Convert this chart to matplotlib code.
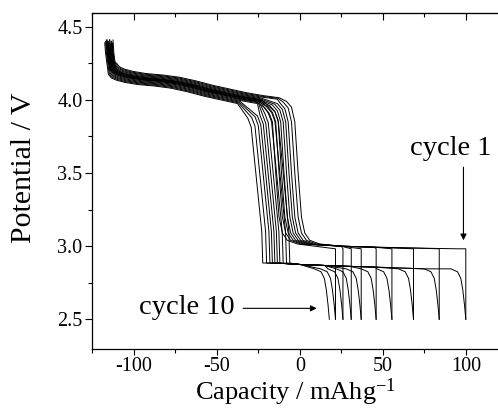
import matplotlib
matplotlib.use("Agg")
import matplotlib.pyplot as plt
from matplotlib.ticker import MultipleLocator, FormatStrFormatter

plt.rcParams["font.family"] = ["Liberation Serif", "DejaVu Serif"]
plt.rcParams["mathtext.fontset"] = "custom"
plt.rcParams["mathtext.rm"] = "Liberation Serif"
plt.rcParams["mathtext.it"] = "Liberation Serif:italic"
plt.rcParams["axes.unicode_minus"] = False

# end-of-discharge capacity of each cycle (cycle 1 .. cycle 10), mAh/g
CYCLE_END = [100, 84, 68.5, 55.5, 46, 37, 31, 26, 21.5, 17.8]

# first branch: smooth step onto the 3.0 V plateau (cycles 1-9)
START_HI = [-112.5, -113, -113.5, -114, -114.5, -115, -115.5, -116, -116.5]
TOP_HI = [4.41, 4.39, 4.40, 4.38, 4.41, 4.39, 4.40, 4.38, 4.41]
SHIFT_HI = [0.03, 0.025, 0.02, 0.015, 0.01, 0.005, 0.0, -0.005, -0.01]
STEP_HI = [-1, -3, -5, -6.5, -8, -9.5, -11, -12.5, -14.5]

# second branch: abrupt step onto the 2.88 V plateau (cycles 1-10)
START_LO = [-113, -113.5, -114, -114.5, -115, -115.5, -116, -116.5, -117, -117.5]
TOP_LO = [4.39, 4.40, 4.38, 4.41, 4.40, 4.39, 4.41, 4.38, 4.40, 4.39]
SHIFT_LO = [0.0, -0.005, -0.01, -0.015, -0.02, -0.025, -0.03, -0.035, -0.04, -0.045]
STEP_LO = [-6, -8, -10, -12, -13.5, -15, -16.5, -18, -20, -22.3]

# 4 V region after the initial spike, capacity counted from the curve start
HEAD_DCAP = [0.5, 1.2, 2.2, 4, 7, 12, 20, 30, 40, 50, 60, 70, 80, 90, 100]
HEAD_V = [4.32, 4.26, 4.22, 4.195, 4.18, 4.165, 4.15, 4.14, 4.125,
          4.10, 4.07, 4.045, 4.02, 4.0, 3.985]

# shape of the drop onto the 3.0 V plateau, relative to the step
DROP_HI_DCAP = [-7, -4, -2, 0, 2, 4, 7, 13]
DROP_HI_V = [3.96, 3.92, 3.85, 3.50, 3.20, 3.09, 3.04, 3.015]
PLAT_HI_CAP = [25, 45, 70, 95]
PLAT_HI_V = [3.0, 2.993, 2.987, 2.982]

# shape of the drop onto the 2.88 V plateau, relative to the step
DROP_LO_DCAP = [-9, -7, -0.6, 0]
DROP_LO_V = [3.92, 3.86, 3.10, 2.885]
PLAT_LO_CAP = [-10, 0, 15, 30, 45, 60, 75, 90]
PLAT_LO_V = [2.882, 2.875, 2.868, 2.862, 2.857, 2.851, 2.845, 2.838]
KNEE_DCAP = [-9, -5, -3, -1.8, -0.8, 0]
KNEE_V = [2.845, 2.825, 2.78, 2.70, 2.60, 2.50]


def head(start, top_v, shift, cut):
    cap, v = [start], [top_v]
    for i, (d, h) in enumerate(zip(HEAD_DCAP, HEAD_V)):
        if start + d < cut:
            cap.append(start + d)
            v.append(h + (shift if i >= 2 else 0))
    return cap, v


def upper_curve(start, top_v, shift, step, end):
    cap, v = head(start, top_v, shift, step + DROP_HI_DCAP[0] - 1)
    for i, (d, h) in enumerate(zip(DROP_HI_DCAP, DROP_HI_V)):
        cap.append(step + d)
        v.append(h + (shift if i < 2 else 0))
    for c, h in zip(PLAT_HI_CAP, PLAT_HI_V):
        if step + DROP_HI_DCAP[-1] < c < end:
            cap.append(c)
            v.append(h)
    cap += [end, end]
    v += [PLAT_HI_V[-1], 2.5]
    return cap, v


def lower_curve(start, top_v, shift, step, end):
    cap, v = head(start, top_v, shift, step + DROP_LO_DCAP[0] - 1)
    for i, (d, h) in enumerate(zip(DROP_LO_DCAP, DROP_LO_V)):
        cap.append(step + d)
        v.append(h + (shift if i < 2 else 0))
    for c, h in zip(PLAT_LO_CAP, PLAT_LO_V):
        if step + 1 < c < end + KNEE_DCAP[0] - 1:
            cap.append(c)
            v.append(h)
    for d, h in zip(KNEE_DCAP, KNEE_V):
        cap.append(end + d)
        v.append(h)
    return cap, v


fig = plt.figure(figsize=(4.98, 4.08), dpi=100)
ax = fig.add_axes([0.1853, 0.1446, 0.8167, 0.8235])

for i in range(len(STEP_HI)):
    x, y = upper_curve(START_HI[i], TOP_HI[i], SHIFT_HI[i], STEP_HI[i], CYCLE_END[i])
    ax.plot(x, y, color="black", lw=0.7)
for i in range(len(STEP_LO)):
    x, y = lower_curve(START_LO[i], TOP_LO[i], SHIFT_LO[i], STEP_LO[i], CYCLE_END[i])
    ax.plot(x, y, color="black", lw=0.7)

arrow = dict(arrowstyle="-|>", color="black", lw=0.8, mutation_scale=9,
             shrinkA=0, shrinkB=0)
ax.annotate("", xy=(98.6, 3.04), xytext=(98.6, 3.54), arrowprops=arrow)
ax.text(91.2, 3.623, "cycle 1", ha="center", va="baseline", fontsize=20.5)
ax.annotate("", xy=(10.2, 2.575), xytext=(-34.1, 2.575), arrowprops=arrow)
ax.text(-68.0, 2.534, "cycle 10", ha="center", va="baseline", fontsize=20.5)

ax.set_xlim(-125, 120)
ax.set_ylim(2.297, 4.594)
ax.xaxis.set_major_locator(MultipleLocator(50))
ax.xaxis.set_minor_locator(MultipleLocator(25))
ax.yaxis.set_major_locator(MultipleLocator(0.5))
ax.yaxis.set_minor_locator(MultipleLocator(0.25))
ax.yaxis.set_major_formatter(FormatStrFormatter("%.1f"))
ax.tick_params(axis="both", which="both", direction="out", labelsize=14.5,
               width=0.8, pad=2)
ax.tick_params(axis="x", which="major", length=4)
ax.tick_params(axis="x", which="minor", length=3)
ax.tick_params(axis="y", which="major", length=5)
ax.tick_params(axis="y", which="minor", length=3)
ax.spines["right"].set_visible(False)
for s in ("left", "bottom", "top"):
    ax.spines[s].set_linewidth(0.9)

# inward ticks along the top frame
top = ax.secondary_xaxis("top")
top.xaxis.set_major_locator(MultipleLocator(50))
top.xaxis.set_minor_locator(MultipleLocator(25))
top.tick_params(which="both", direction="in", labeltop=False, width=0.8)
top.tick_params(which="major", length=5)
top.tick_params(which="minor", length=3)

ax.set_xlabel("Capacity / mAhg$^{\\mathregular{-1}}$", fontsize=19, labelpad=0)
ax.set_ylabel("Potential / V", fontsize=21.5)
ax.yaxis.set_label_coords(-0.135, 0.54)

fig.savefig("out.png", dpi=100)
